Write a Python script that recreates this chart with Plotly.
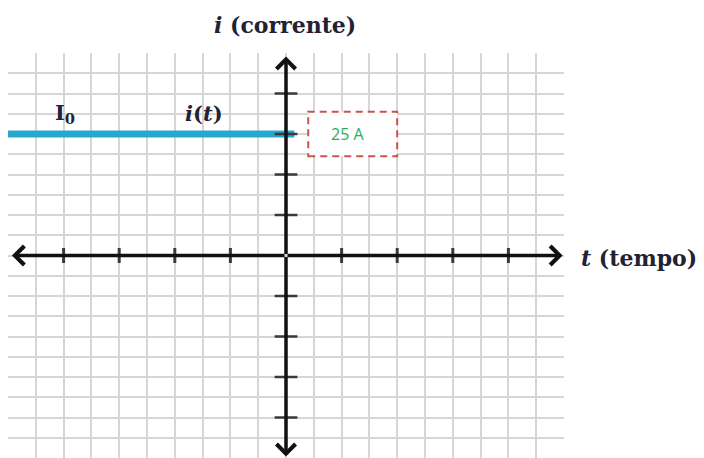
import plotly.graph_objects as go

# ---- data (grid units) ----
t_values = [-10, 0.3]          # time extent of i(t) before t=0
i_values = [6, 6]              # current level I0 (grid units)
current_label = "25 A"
x_ticks = [-8, -6, -4, -2, 2, 4, 6, 8]
y_ticks = [-8, -6, -4, -2, 2, 4, 6, 8]
grid_range = [-10, 10]

TXT = "#222233"
AX = "#111111"

fig = go.Figure()

# i(t) line
fig.add_trace(go.Scatter(x=t_values, y=i_values, mode="lines",
                         line=dict(color="#29a7ca", width=7), hoverinfo="skip",
                         showlegend=False))

# tick marks on horizontal axis
tx, ty = [], []
for v in x_ticks:
    tx += [v, v, None]
    ty += [-0.37, 0.37, None]
fig.add_trace(go.Scatter(x=tx, y=ty, mode="lines",
                         line=dict(color="#3a3a3a", width=3), hoverinfo="skip",
                         showlegend=False))
# tick marks on vertical axis
vx, vy = [], []
for v in y_ticks:
    vx += [-0.41, 0.41, None]
    vy += [v, v, None]
fig.add_trace(go.Scatter(x=vx, y=vy, mode="lines",
                         line=dict(color="#3a3a3a", width=2.5), hoverinfo="skip",
                         showlegend=False))

# dashed box with value
fig.add_shape(type="rect", x0=0.8, x1=4.0, y0=4.9, y1=7.1,
              line=dict(color="#d0504c", width=2, dash="7px,5px"),
              fillcolor="white", layer="above")

annotations = []
# axis arrows
for (x, y) in [(-9.86, 0), (9.95, 0), (0, 9.83), (0, -9.93)]:
    annotations.append(dict(x=x, y=y, ax=0, ay=0, xref="x", yref="y",
                            axref="x", ayref="y", showarrow=True,
                            arrowhead=4, arrowwidth=3.5, arrowsize=1.05,
                            arrowcolor=AX, text=""))

serif = "DejaVu Serif"
annotations += [
    dict(x=2.2, y=6, xref="x", yref="y", text=current_label, showarrow=False,
         font=dict(family="Open Sans", size=16, color="#26b05a")),
    dict(x=285, y=25, xref="paper", yref="paper", text="<b><i>i</i> (corrente)</b>",
         showarrow=False, font=dict(family=serif, size=22, color=TXT)),
    dict(x=639, y=258, xref="paper", yref="paper", text="<b><i>t</i> (tempo)</b>",
         showarrow=False, font=dict(family=serif, size=22, color=TXT)),
    dict(x=65, y=114, xref="paper", yref="paper", text="<b>I<sub>0</sub></b>",
         showarrow=False, font=dict(family=serif, size=21, color=TXT)),
    dict(x=204, y=113, xref="paper", yref="paper", text="<b><i>i</i>(<i>t</i>)</b>",
         showarrow=False, font=dict(family=serif, size=21, color=TXT)),
]

# page offset (browser body margin) compensation
OFF = 8
W, H = 704, 458
L, R, T, B = 8 - OFF, 140 + OFF, 53 - OFF, 0 + OFF
pw, ph = W - L - R, H - T - B
for a in annotations:
    if a.get("xref") == "paper":
        a["x"] = (a["x"] - OFF - L) / pw
        a["y"] = 1 - (a["y"] - OFF - T) / ph
        a["xanchor"] = "center"
        a["yanchor"] = "middle"

fig.update_layout(
    width=W, height=H, margin=dict(l=L, r=R, t=T, b=B),
    paper_bgcolor="white", plot_bgcolor="white",
    annotations=annotations,
    xaxis=dict(range=grid_range, dtick=1, tick0=0, showgrid=True,
               gridcolor="#d6d6d6", gridwidth=1.6, zeroline=False,
               showticklabels=False, ticks="", fixedrange=True),
    yaxis=dict(range=grid_range, dtick=1, tick0=0, showgrid=True,
               gridcolor="#d6d6d6", gridwidth=1.6, zeroline=False,
               showticklabels=False, ticks="", fixedrange=True),
)

fig.write_html("out.html")
